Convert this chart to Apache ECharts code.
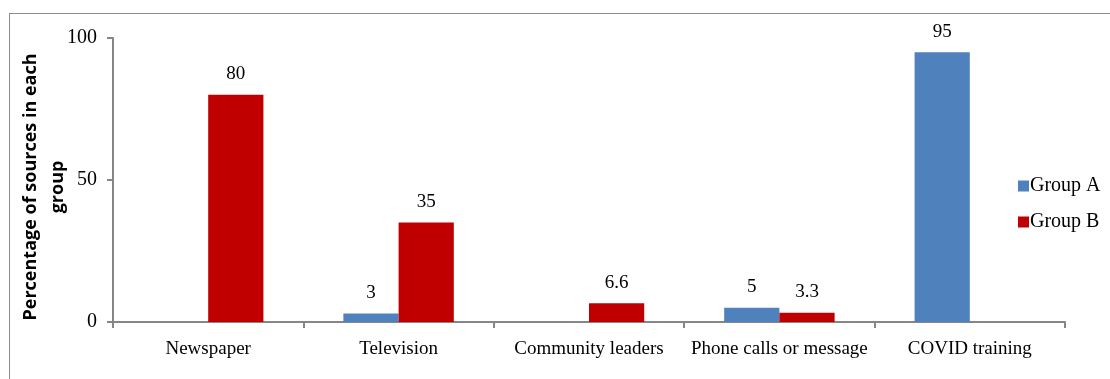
<!DOCTYPE html>
<html>
<head>
<meta charset="utf-8">
<script src="https://cdn.jsdelivr.net/npm/echarts@6/dist/echarts.min.js"></script>
<style>
html,body{margin:0;padding:0;background:#fff;}
#wrap{position:absolute;left:9px;top:13px;width:1110px;height:380px;border:1px solid #8c8c8c;box-sizing:border-box;}
#chart{position:absolute;left:0;top:0;width:1110px;height:379px;}
</style>
</head>
<body>
<div id="wrap"></div>
<div id="chart"></div>
<script>
const categories = ['Newspaper', 'Television', 'Community leaders', 'Phone calls or message', 'COVID training'];
const groupA = [null, 3, null, 5, 95];
const groupB = [80, 35, 6.6, 3.3, null];
const yTicks = [0, 50, 100];

const serif = '"Liberation Serif", "Times New Roman", serif';
const chart = echarts.init(document.getElementById('chart'), null, {renderer: 'canvas'});
const labelCfg = {show: true, position: 'top', distance: 11, color: '#000', fontFamily: serif, fontSize: 19};
chart.setOption({
  animation: false,
  grid: {left: 113, right: 45, top: 38, bottom: 57, containLabel: false, outerBoundsMode: 'none'},
  legend: {
    orient: 'vertical', left: 1013, top: 171,
    itemWidth: 11, itemHeight: 11, itemGap: 16,
    icon: 'rect',
    textStyle: {fontFamily: serif, fontSize: 20, color: '#000', padding: [0,0,0,-4]},
    data: ['Group A', 'Group B']
  },
  xAxis: {
    type: 'category', data: categories,
    axisLine: {lineStyle: {color: '#868686', width: 2}},
    axisTick: {show: true, length: 6, lineStyle: {color: '#868686', width: 2}},
    axisLabel: {color: '#000', fontFamily: serif, fontSize: 19, margin: 18, interval: 0}
  },
  yAxis: {
    type: 'value', min: yTicks[0], max: yTicks[yTicks.length - 1], interval: 50,
    name: 'Percentage of sources in each\ngroup',
    nameLocation: 'middle', nameRotate: 90, nameGap: 42, nameMoveOverlap: false,
    nameTextStyle: {fontFamily: '"Open Sans", "Liberation Sans", sans-serif', fontWeight: 'bold', fontSize: 18, color: '#000', lineHeight: 27, padding: [0, 14, 0, 0]},
    splitLine: {show: false},
    axisLine: {show: true, lineStyle: {color: '#868686', width: 2}},
    axisTick: {show: true, length: 6, lineStyle: {color: '#868686', width: 2}},
    axisLabel: {color: '#000', fontFamily: serif, fontSize: 20, margin: 16}
  },
  series: [
    {name: 'Group A', type: 'bar', data: groupA, barGap: '0%', barCategoryGap: '42%',
     itemStyle: {color: '#4F81BD'}, label: labelCfg},
    {name: 'Group B', type: 'bar', data: groupB, barGap: '0%', barCategoryGap: '42%',
     itemStyle: {color: '#C00000'}, label: labelCfg}
  ]
});
</script>
</body>
</html>
